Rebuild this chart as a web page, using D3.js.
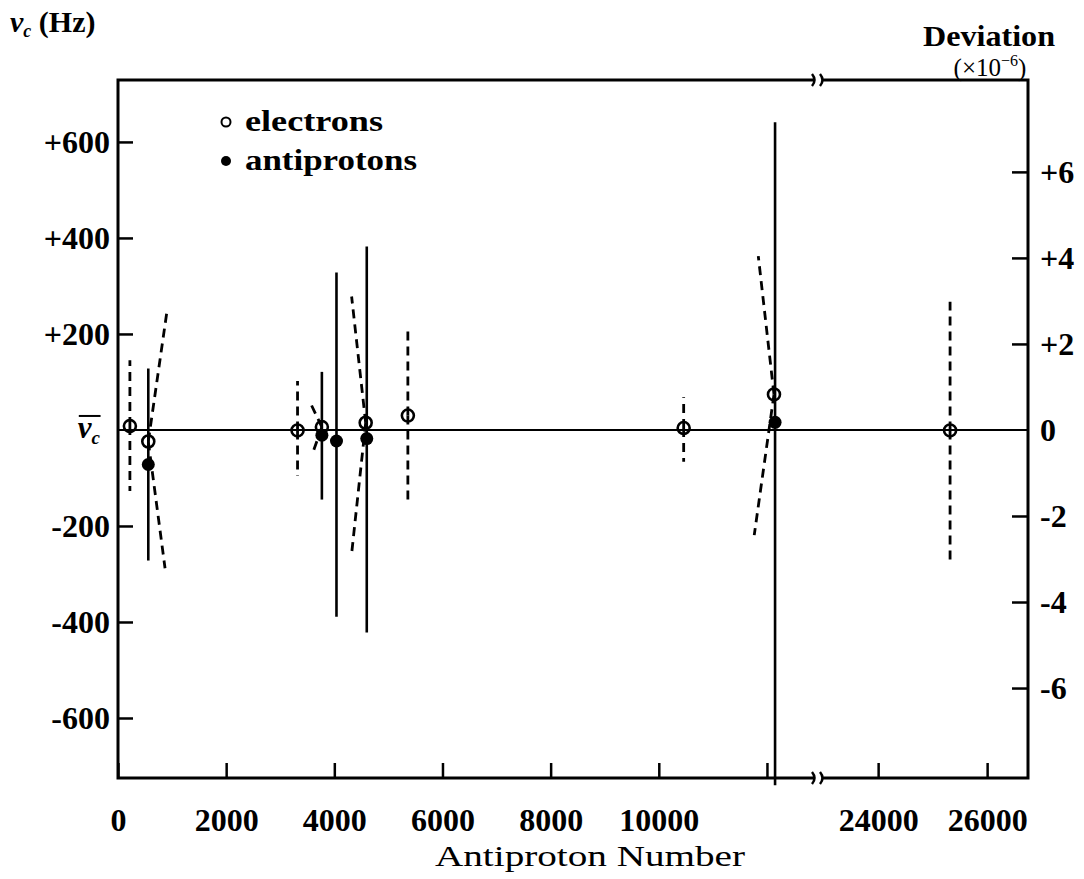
<!DOCTYPE html>
<html>
<head>
<meta charset="utf-8">
<script src="https://cdn.jsdelivr.net/npm/d3@7"></script>
<style>
  body { margin: 0; background: #fff; }
  svg { display: block; }
</style>
</head>
<body>
<div id="chart"></div>
<script>
// electrons (open circles, dashed bars); ends of the dashed bars can lean
var electronN = [220, 560, 3320, 3770, 4580, 5360, 10460, 12130, 25320];
var electronHz = [8, -24, -1, 6, 15, 30, 4, 74, -1];
var electronTopN = [220, 900, 3320, 3580, 4320, 5360, 10460, 11840, 25320];
var electronTopHz = [145, 243, 102, 51, 278, 207, 68, 362, 267];
var electronBottomN = [220, 870, 3320, 3600, 4320, 5360, 10460, 11765, 25320];
var electronBottomHz = [-127, -288, -96, -48, -258, -154, -66, -219, -270];

// antiprotons (filled circles, solid bars)
var antiprotonN = [560, 3770, 4040, 4600, 12150];
var antiprotonHz = [-72, -11, -23, -18, 16];
var antiprotonTopHz = [128, 121, 328, 382, 641];
var antiprotonBottomHz = [-272, -145, -389, -422, -740];

// axes
var xTicksLeft = [0, 2000, 4000, 6000, 8000, 10000, 12000];
var xLabelsLeft = ["0", "2000", "4000", "6000", "8000", "10000", ""];
var xTicksRight = [24000, 26000];
var xLabelsRight = ["24000", "26000"];
var yTicks = [600, 400, 200, 0, -200, -400, -600];
var yLabels = ["+600", "+400", "+200", "", "-200", "-400", "-600"];
var devTicks = [6, 4, 2, 0, -2, -4, -6];
var devLabels = ["+6", "+4", "+2", "0", "-2", "-4", "-6"];
var nuC = 89.6; // MHz, so 1e-6 of it is 89.6 Hz

function draw() {
	var width = 1084, height = 879;
	var mLeft = 118, mRight = 1028, mTop = 80, mBottom = 778;
	var breakL = 814, breakR = 822;
	var serif = "'Liberation Serif', 'Times New Roman', serif";

	var x1 = d3.scaleLinear().domain([0, 12870]).range([mLeft, breakL]);
	var x2 = d3.scaleLinear().domain([22970, 26750]).range([breakR, mRight]);
	function xPos(n) {
		return n < 18000 ? x1(n) : x2(n);
	}
	var y = d3.scaleLinear().domain([-725, 729]).range([mBottom, mTop]);
	var yDev = d3.scaleLinear().domain([-725 / nuC, 729 / nuC]).range([mBottom, mTop]);

	var svg = d3.select("#chart").append("svg")
		.attr("width", width)
		.attr("height", height)
		.style("font-family", serif);

	svg.append("rect").attr("width", width).attr("height", height).attr("fill", "#fff");

	function styleAxis(g) {
		g.select(".domain").remove();
		g.attr("font-family", serif);
		g.selectAll(".tick line").attr("stroke", "#000").attr("stroke-width", 2.5);
		g.selectAll(".tick text").attr("fill", "#000")
			.style("font-family", serif).style("font-size", "32px").style("font-weight", "bold");
	}
	// bottom axis, two pieces
	svg.append("g")
		.attr("transform", "translate(0," + mBottom + ")")
		.call(d3.axisBottom(x1).tickValues(xTicksLeft).tickSize(-15).tickPadding(30)
			.tickFormat(function (d, i) { return xLabelsLeft[i]; }))
		.call(styleAxis);
	svg.append("g")
		.attr("transform", "translate(0," + mBottom + ")")
		.call(d3.axisBottom(x2).tickValues(xTicksRight).tickSize(-15).tickPadding(30)
			.tickFormat(function (d, i) { return xLabelsRight[i]; }))
		.call(styleAxis);

	// left axis
	svg.append("g")
		.attr("transform", "translate(" + mLeft + ",0)")
		.call(d3.axisLeft(y).tickValues(yTicks).tickSize(-15).tickPadding(8)
			.tickFormat(function (d, i) { return yLabels[i]; }))
		.call(styleAxis)
		.selectAll(".tick").filter(function (d) { return d === 0; }).select("line").remove();

	// right axis (deviation)
	svg.append("g")
		.attr("transform", "translate(" + mRight + ",0)")
		.call(d3.axisRight(yDev).tickValues(devTicks).tickSize(-16).tickPadding(12)
			.tickFormat(function (d, i) { return devLabels[i]; }))
		.call(styleAxis)
		.selectAll(".tick").filter(function (d) { return d === 0; }).select("line").remove();

	// mean value label on the left axis
	var nuBar = svg.append("text")
		.attr("x", 100)
		.attr("y", y(0) + 8)
		.attr("text-anchor", "end")
		.style("font-size", "31px")
		.style("font-weight", "bold");
	nuBar.append("tspan").style("font-style", "italic").text("ν");
	nuBar.append("tspan").attr("dy", 6).style("font-size", "19px").style("font-style", "italic").text("c");
	var bb = nuBar.node().getBBox();
	svg.append("line")
		.attr("x1", bb.x + 1).attr("x2", bb.x + bb.width)
		.attr("y1", y(0) - 14).attr("y2", y(0) - 14)
		.attr("stroke", "#000").attr("stroke-width", 2);

	// frame with the axis break
	var frame = d3.path();
	frame.moveTo(breakL, mTop);
	frame.lineTo(mLeft, mTop);
	frame.lineTo(mLeft, mBottom);
	frame.lineTo(breakL, mBottom);
	frame.moveTo(breakR, mBottom);
	frame.lineTo(mRight, mBottom);
	frame.lineTo(mRight, mTop);
	frame.lineTo(breakR, mTop);
	svg.append("path").attr("d", frame.toString())
		.attr("fill", "none").attr("stroke", "#000").attr("stroke-width", 3);

	[mTop, mBottom].forEach(function (yy) {
		[breakL, breakR].forEach(function (xx) {
			svg.append("path")
				.attr("d", "M" + (xx - 2) + "," + (yy - 6) + " Q" + (xx + 3) + "," + yy + " " + (xx - 2) + "," + (yy + 6))
				.attr("fill", "none").attr("stroke", "#000").attr("stroke-width", 2.5);
		});
	});

	// zero line
	svg.append("line")
		.attr("x1", mLeft).attr("x2", mRight)
		.attr("y1", y(0)).attr("y2", y(0))
		.attr("stroke", "#000").attr("stroke-width", 2);

	// electron dashed bars
	var line = d3.line();
	electronN.forEach(function (n, i) {
		var p = [xPos(n), y(electronHz[i])];
		[[xPos(electronTopN[i]), y(electronTopHz[i])], [xPos(electronBottomN[i]), y(electronBottomHz[i])]].forEach(function (end) {
			svg.append("path")
				.attr("d", line([p, end]))
				.attr("fill", "none")
				.attr("stroke", "#000")
				.attr("stroke-width", 2.8)
				.attr("stroke-dasharray", "9,6");
		});
	});

	// antiproton solid bars
	svg.selectAll(".pbar")
		.data(antiprotonN)
		.enter()
		.append("line")
		.attr("x1", function (d) { return xPos(d); })
		.attr("x2", function (d) { return xPos(d); })
		.attr("y1", function (d, i) { return y(antiprotonTopHz[i]); })
		.attr("y2", function (d, i) { return y(antiprotonBottomHz[i]); })
		.attr("stroke", "#000")
		.attr("stroke-width", 2.6);

	svg.selectAll(".electron")
		.data(electronN)
		.enter()
		.append("circle")
		.attr("cx", function (d) { return xPos(d); })
		.attr("cy", function (d, i) { return y(electronHz[i]); })
		.attr("r", 6)
		.attr("fill", "none")
		.attr("stroke", "#000")
		.attr("stroke-width", 2.6);

	svg.selectAll(".antiproton")
		.data(antiprotonN)
		.enter()
		.append("circle")
		.attr("cx", function (d) { return xPos(d); })
		.attr("cy", function (d, i) { return y(antiprotonHz[i]); })
		.attr("r", 6.5)
		.attr("fill", "#000");

	// legend
	svg.append("circle").attr("cx", 226).attr("cy", 122).attr("r", 4.5)
		.attr("fill", "none").attr("stroke", "#000").attr("stroke-width", 2);
	svg.append("circle").attr("cx", 226).attr("cy", 161).attr("r", 5).attr("fill", "#000");
	svg.append("text").attr("x", 245).attr("y", 131)
		.attr("textLength", 138).attr("lengthAdjust", "spacingAndGlyphs")
		.style("font-size", "29px").style("font-weight", "bold").text("electrons");
	svg.append("text").attr("x", 245).attr("y", 170)
		.attr("textLength", 172).attr("lengthAdjust", "spacingAndGlyphs")
		.style("font-size", "29px").style("font-weight", "bold").text("antiprotons");

	// axis titles
	var yTitle = svg.append("text").attr("x", 10).attr("y", 32)
		.style("font-size", "30px").style("font-weight", "bold");
	yTitle.append("tspan").style("font-style", "italic").text("ν");
	yTitle.append("tspan").attr("dy", 5).style("font-size", "18px").style("font-style", "italic").text("c");
	yTitle.append("tspan").attr("dy", -5).text(" (Hz)");

	svg.append("text").attr("x", 923).attr("y", 46)
		.attr("textLength", 132).attr("lengthAdjust", "spacingAndGlyphs")
		.style("font-size", "29px").style("font-weight", "bold").text("Deviation");
	var devSub = svg.append("text").attr("x", 990).attr("y", 76)
		.attr("text-anchor", "middle")
		.style("font-size", "25px");
	devSub.append("tspan").text("(×10");
	devSub.append("tspan").attr("dy", -10).style("font-size", "16px").text("−6");
	devSub.append("tspan").attr("dy", 10).text(")");

	svg.append("text").attr("x", 590).attr("y", 866)
		.attr("text-anchor", "middle")
		.attr("textLength", 310).attr("lengthAdjust", "spacingAndGlyphs")
		.style("font-size", "30px").text("Antiproton Number");
}

draw();
</script>
</body>
</html>
